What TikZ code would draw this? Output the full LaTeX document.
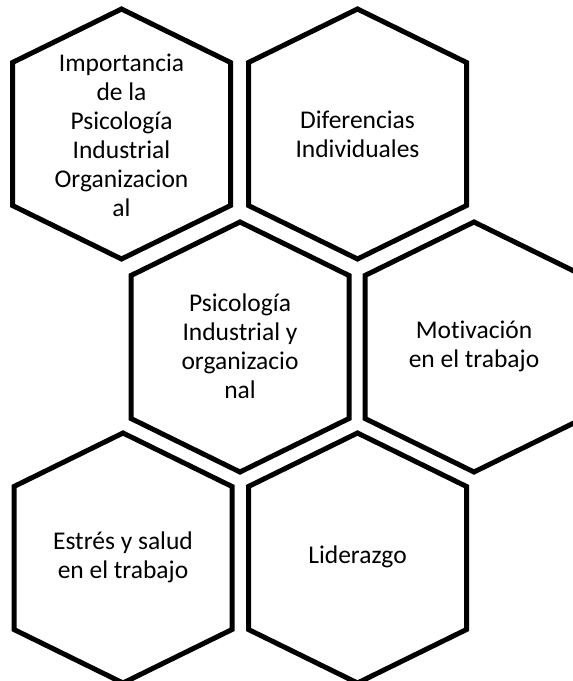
\documentclass[tikz,border=0pt]{standalone}
\usepackage{fontspec}
\setmainfont[Ligatures=NoCommon]{Carlito}
\begin{document}
\begin{tikzpicture}[x=1pt,y=-1pt,
  hexline/.style={draw=black,line width=5pt,line join=miter},
  hexlabel/.style={align=center,font=\fontsize{25.5}{29}\selectfont,inner sep=0pt},
  hexa/.pic={\path[hexline] (0,-125) -- (109,-71.5) -- (109,71.5) -- (0,125) -- (-109,71.5) -- (-109,-71.5) -- cycle;}]
\useasboundingbox (0,0) rectangle (573,681);
\fill[white] (0,0) rectangle (573,681);
% hexagon outlines
\pic at (121.5,134) {hexa};
\pic at (357.5,134) {hexa};
\pic at (240,347) {hexa};
\pic at (474,347) {hexa};
\pic at (123,558) {hexa};
\pic at (357.5,558) {hexa};
% labels
\node[hexlabel] (imp) at (121.5,135) {Importancia\\de la\\Psicología\\Industrial\\Organizacion\\al};
\node[hexlabel] (dif) at (357.5,134) {Diferencias\\Individuales};
\node[hexlabel] (psi) at (240,346) {Psicología\\Industrial y\\organizacio\\nal};
\node[hexlabel] (mot) at (474,346) {Motivación\\en el trabajo};
\node[hexlabel] (est) at (123,557) {Estrés y salud\\en el trabajo};
\node[hexlabel] (lid) at (357.5,557) {Liderazgo};
\end{tikzpicture}
\end{document}
